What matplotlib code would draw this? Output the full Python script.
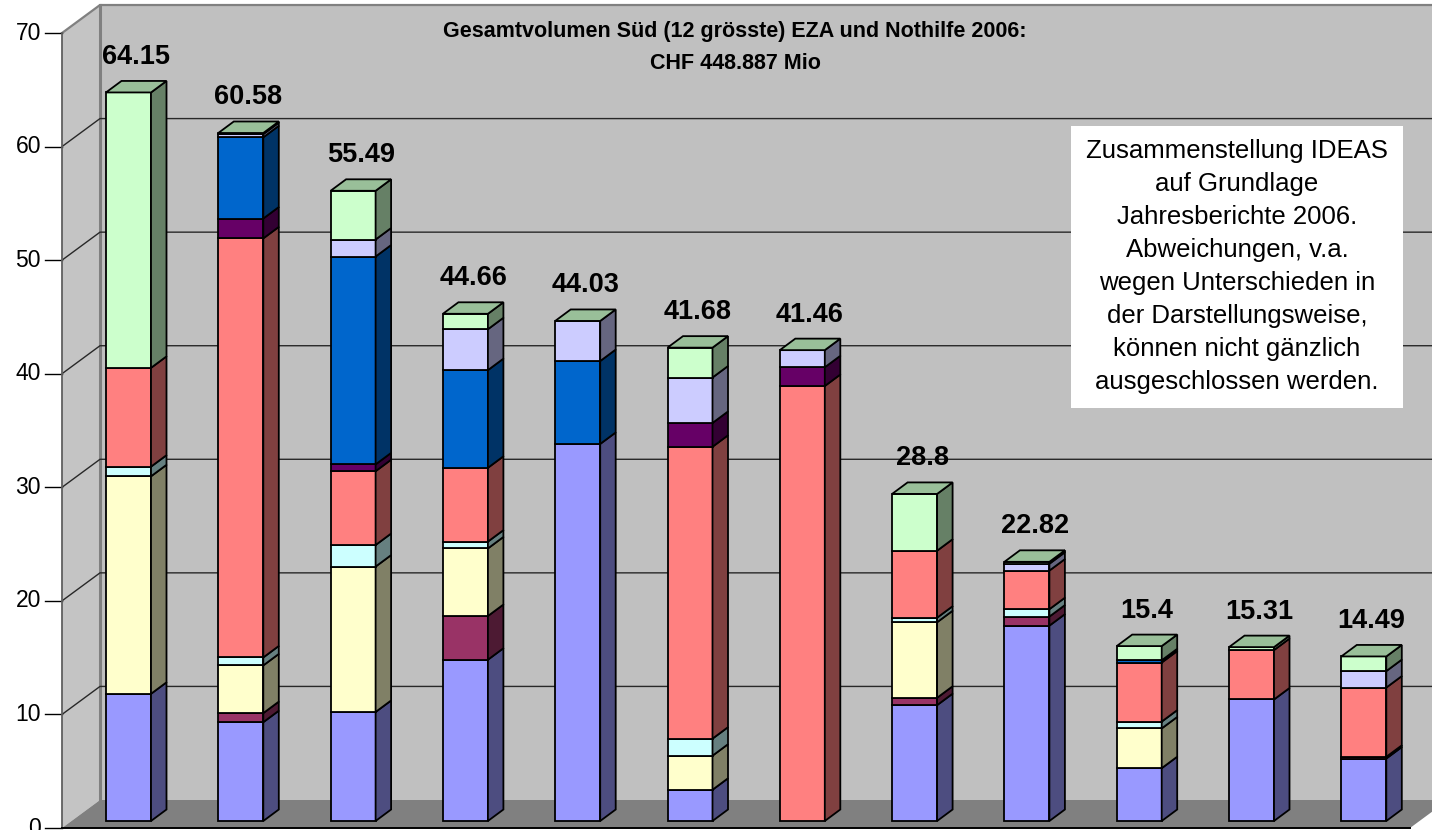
import matplotlib.pyplot as plt
import matplotlib.colors as mcolors
from matplotlib.patches import Polygon, Rectangle
import numpy as np

plt.rcParams['font.family'] = ['Liberation Sans', 'DejaVu Sans']

# stacked series per organisation, bottom to top (Mio CHF)
s_peri   = [11.2, 8.7, 9.6, 14.2, 33.2, 2.75, 0, 10.2, 17.2, 4.65, 10.7, 5.5]
s_plum   = [0, 0.8, 0, 3.85, 0, 0, 0, 0.65, 0.8, 0, 0, 0.15]
s_yellow = [19.15, 4.2, 12.8, 5.95, 0, 3.0, 0, 6.65, 0, 3.5, 0, 0]
s_cyan   = [0.85, 0.7, 1.9, 0.6, 0, 1.5, 0, 0.4, 0.65, 0.6, 0, 0]
s_salmon = [8.7, 36.9, 6.5, 6.5, 0, 25.7, 38.3, 5.9, 3.4, 5.2, 4.35, 6.1]
s_purple = [0, 1.75, 0.6, 0, 0, 2.1, 1.65, 0, 0, 0, 0, 0]
s_blue   = [0, 7.15, 18.3, 8.6, 7.3, 0, 0, 0, 0, 0.2, 0, 0]
s_lav    = [0, 0.28, 1.5, 3.6, 3.53, 4.0, 1.51, 0, 0.6, 0, 0, 1.45]
s_green  = [24.25, 0.1, 4.29, 1.36, 0, 2.63, 0, 5.0, 0.17, 1.25, 0.26, 1.29]

series = [s_peri, s_plum, s_yellow, s_cyan, s_salmon, s_purple, s_blue, s_lav, s_green]
colors = ['#9999FF', '#993366', '#FFFFCC', '#CCFFFF', '#FF8080',
          '#660066', '#0066CC', '#CCCCFF', '#CCFFCC']

yticks = [0, 10, 20, 30, 40, 50, 60, 70]
title1 = 'Gesamtvolumen Süd (12 grösste) EZA und Nothilfe 2006:'
title2 = 'CHF 448.887 Mio'
note = ['Zusammenstellung IDEAS', 'auf Grundlage', 'Jahresberichte 2006.',
        'Abweichungen, v.a.', 'wegen Unterschieden in', 'der Darstellungsweise,',
        'können nicht gänzlich', 'ausgeschlossen werden.']

# pixel scale of the excel-like 3d view
PXX = 112.3
PXY = 11.357
X_AX = -66.5 / PXX            # front plane value axis
WX, WY = 38 / PXX, 28 / PXY   # wall depth
HW = 22.5 / PXX               # half width of bar front
B0 = 7 / PXY                  # bar base above front plane
DX, DY = 15.5 / PXX, 11.5 / PXY
X_RIGHT = 1281.5 / PXX


def shade(c, f):
    r, g, b = mcolors.to_rgb(c)
    return (r * f, g * f, b * f)


fig = plt.figure(figsize=(14.32, 8.3), dpi=100)
ax = fig.add_axes([0, 0, 1, 1])
ax.set_xlim(-128.5 / PXX, 1303.5 / PXX)
ax.set_ylim(-2 / PXY, 828 / PXY)
ax.axis('off')

top = 70
# walls and floor
ax.add_patch(Polygon([(X_AX + WX, WY), (X_RIGHT + 2, WY), (X_RIGHT + 2, top + WY),
                      (X_AX + WX, top + WY)], fc='#C0C0C0', ec='none', zorder=0))
ax.add_patch(Polygon([(X_AX, 0), (X_AX + WX, WY), (X_AX + WX, top + WY), (X_AX, top)],
                     fc='#C4C4C4', ec='none', zorder=0))
ax.add_patch(Polygon([(X_AX, 0), (X_RIGHT, 0), (X_RIGHT + WX, WY), (X_AX + WX, WY)],
                     fc='#808080', ec='none', zorder=0))
ax.plot([X_AX + WX, X_AX + WX], [WY, top + WY], color='#808080', lw=2.2, zorder=1)
ax.plot([X_AX, X_AX + WX, X_RIGHT + 2], [top, top + WY, top + WY], color='#808080', lw=1.6, zorder=1)

for v in yticks[1:-1]:
    ax.plot([X_AX, X_AX + WX, X_RIGHT + 2], [v, v + WY, v + WY], color='#282828', lw=1.0, zorder=1)
for v in yticks:
    ax.plot([X_AX - 17 / PXX, X_AX], [v, v], color='black', lw=1.0, zorder=2)
    ax.text(X_AX - 21 / PXX, v, str(v), ha='right', va='center', fontsize=16.5)
ax.plot([X_AX, X_AX], [0, top], color='#606060', lw=1.3, zorder=2)
ax.plot([X_AX, X_RIGHT], [0, 0], color='black', lw=1.4, zorder=2)

# stacked 3d columns
xs = np.arange(len(s_peri))
for i in xs:
    xl, xr = i - HW, i + HW
    base = B0
    for vals, c in zip(series, colors):
        h = vals[i]
        if h <= 0:
            continue
        ax.add_patch(Rectangle((xl, base), 2 * HW, h, fc=c, ec='black', lw=1.3, zorder=3))
        ax.add_patch(Polygon([(xr, base), (xr + DX, base + DY), (xr + DX, base + h + DY),
                              (xr, base + h)], fc=shade(c, 0.5), ec='black', lw=1.3, zorder=3))
        base += h
    ax.add_patch(Polygon([(xl, base), (xr, base), (xr + DX, base + DY), (xl + DX, base + DY)],
                         fc=shade(colors[-1], 0.75), ec='black', lw=1.3, zorder=3))
    total = round(sum(s[i] for s in series), 2)
    ax.text(i + DX / 2, base + DY + 17 / PXY, f'{total:g}', ha='center', va='baseline',
            fontsize=19.5, fontweight='bold', zorder=4)

# title
ax.text(606.5 / PXX, 797 / PXY, title1, ha='center', va='center', fontsize=15.5,
        fontweight='bold', zorder=4)
ax.text(606.5 / PXX, 765 / PXY, title2, ha='center', va='center', fontsize=15.5,
        fontweight='bold', zorder=4)

# note box
bx0, bx1 = 942.5 / PXX, 1274.5 / PXX
by0, by1 = 420 / PXY, 702 / PXY
ax.add_patch(Rectangle((bx0, by0), bx1 - bx0, by1 - by0, fc='white', ec='none', zorder=2))
for k, line in enumerate(note):
    ax.text((bx0 + bx1) / 2, (677 - 33 * k) / PXY, line, ha='center', va='center',
            fontsize=18.5, zorder=4)

fig.savefig('out.png', dpi=100)
